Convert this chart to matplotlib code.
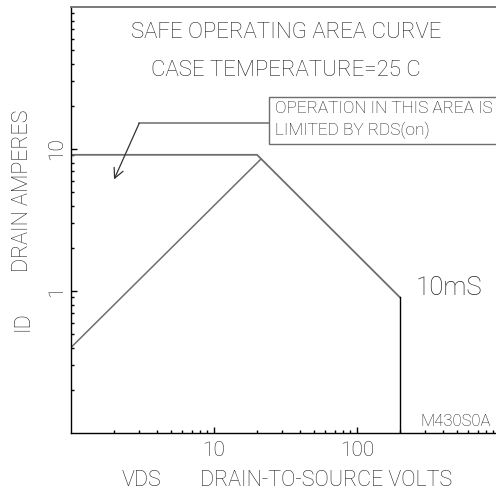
import numpy as np
import matplotlib
matplotlib.use("Agg")
import matplotlib.pyplot as plt
from matplotlib.ticker import LogLocator, NullFormatter, FixedLocator, FixedFormatter

plt.rcParams['font.family'] = ['Roboto', 'DejaVu Sans']
plt.rcParams['font.weight'] = 'light'
plt.rcParams['text.color'] = '#222222'
plt.rcParams['xtick.color'] = '#222222'
plt.rcParams['ytick.color'] = '#222222'

# boundary: RDS(on) limit, power limit, voltage limit
limit_v = [1, 20, 200]
limit_i = [9.1, 9.1, 0.9]
vmax_v = [200, 200]
vmax_i = [0.9, 0.1]
# rising line of the 10 mS curve
rise_v = [1, 21.3]
rise_i = [0.4, 8.5]

x_ticks = [10, 100]
x_labels = ['10', '100']
y_ticks = [1, 10]
y_labels = ['1', '10']

fig = plt.figure(figsize=(4.96, 4.93), dpi=100)
ax = fig.add_axes([71/496, 60/493, 429/496, 426/493])
ax.set_xscale('log')
ax.set_yscale('log')
ax.set_xlim(1, 1000)
ax.set_ylim(0.1, 100)

gray = '#6e6e6e'
ax.plot(limit_v, limit_i, color=gray, lw=1.3)
ax.plot(vmax_v, vmax_i, color='black', lw=1.0)
ax.plot(rise_v, rise_i, color=gray, lw=1.1)

ax.spines['right'].set_visible(False)
ax.spines['top'].set_color(gray)
ax.spines['top'].set_linewidth(1.3)
for s in ['left', 'bottom']:
    ax.spines[s].set_linewidth(1.0)

ax.xaxis.set_major_locator(FixedLocator(x_ticks))
ax.xaxis.set_major_formatter(FixedFormatter(x_labels))
ax.xaxis.set_minor_locator(LogLocator(base=10, subs=np.arange(2, 10)))
ax.xaxis.set_minor_formatter(NullFormatter())
ax.yaxis.set_major_locator(FixedLocator(y_ticks))
ax.yaxis.set_major_formatter(FixedFormatter(y_labels))
ax.yaxis.set_minor_locator(LogLocator(base=10, subs=np.arange(2, 10)))
ax.yaxis.set_minor_formatter(NullFormatter())

ax.tick_params(which='major', direction='in', length=4, width=1.0, labelsize=15,
               color='black')
ax.tick_params(which='minor', direction='in', length=2.5, width=1.0, color='black')
ax.tick_params(axis='x', pad=6)
ax.tick_params(axis='y', labelrotation=90, pad=3.5)
for lab in ax.get_yticklabels():
    lab.set_va('center')

ax.text(0.501, 0.939, 'SAFE OPERATING AREA CURVE', transform=ax.transAxes,
        ha='center', va='center', fontsize=16)
ax.text(0.501, 0.850, 'CASE TEMPERATURE=25 C', transform=ax.transAxes,
        ha='center', va='center', fontsize=16)

ax.text(0.804, 0.340, '10mS', transform=ax.transAxes, ha='left', va='center', fontsize=18.5)
ax.text(0.814, 0.026, 'M430S0A', transform=ax.transAxes, ha='left', va='center', fontsize=12)

# annotation box and leader
ax.text(26.5, 16.0, 'OPERATION IN THIS AREA IS\nLIMITED BY RDS(on)', ha='left', va='center',
        fontsize=12.4, linespacing=1.45,
        bbox=dict(boxstyle='square,pad=0.3', fc='white', ec=gray, lw=1.0))
ax.plot([24.3, 3.0], [15.2, 15.2], color=gray, lw=1.1)
ax.annotate('', xy=(2.0, 6.1), xytext=(3.0, 15.2),
            arrowprops=dict(arrowstyle='->,head_length=0.7,head_width=0.35', color='#333', lw=0.9,
                            shrinkA=0, shrinkB=0))

fig.text(23/496, 1 - 191/493, 'DRAIN AMPERES', rotation=90, ha='center', va='center', fontsize=15.5)
fig.text(23/496, 1 - 321/493, 'ID', rotation=90, ha='center', va='center', fontsize=15.5)
fig.text(142/496, 1 - 481/493, 'VDS', ha='center', va='center', fontsize=15.5)
fig.text(200/496, 1 - 481/493, 'DRAIN-TO-SOURCE VOLTS', ha='left', va='center', fontsize=15.5)

fig.savefig('out.png', dpi=100)
